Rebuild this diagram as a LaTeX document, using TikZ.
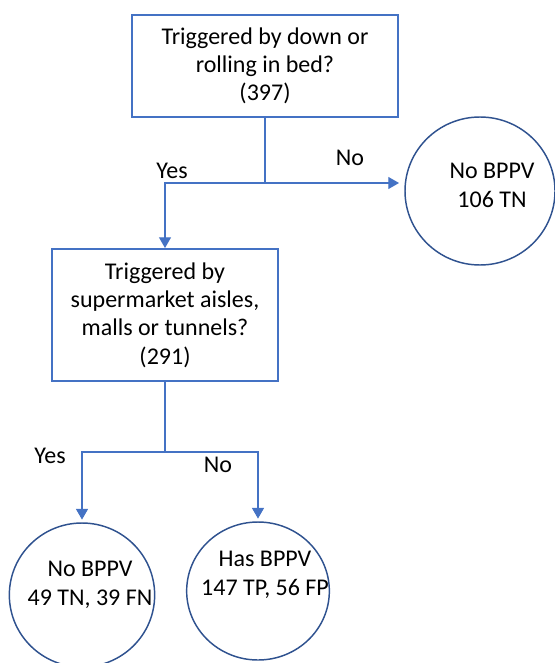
\documentclass[tikz,border=0pt]{standalone}
\usepackage{fontspec}
\setmainfont{Carlito}
\usetikzlibrary{arrows.meta,shapes.geometric}
\definecolor{boxblue}{HTML}{4472C4}
\definecolor{ringblue}{HTML}{2F528F}
\tikzset{
  qbox/.style={draw=boxblue, line width=1.5pt, rectangle, inner sep=0pt, align=center,
    font=\fontsize{18}{21.2}\selectfont},
  ring/.style={draw=ringblue, line width=1.1pt, ellipse, inner sep=0pt},
  ringtext/.style={align=center, font=\fontsize{18}{21.75}\selectfont},
  lbl/.style={font=\fontsize{18}{20}\selectfont},
  conn/.style={draw=boxblue, line width=0.8pt},
  arr/.style={conn, -{Triangle[length=8pt,width=9pt]}}
}
\begin{document}
\begin{tikzpicture}[x=0.75pt,y=-0.75pt]
\useasboundingbox (0,0) rectangle (554,663);
% question boxes
\node[qbox, minimum width=199.5pt, minimum height=76.5pt] (q1) at (265,66)
  {Triggered by down or\\rolling in bed?\\(397)};
\node[qbox, minimum width=169.5pt, minimum height=99pt] (q2) at (165,315)
  {Triggered by\\supermarket aisles,\\malls or tunnels?\\(291)};
% outcome ellipses
\node[ring, minimum width=112.5pt, minimum height=111pt] (c1) at (480,191) {};
\node[ringtext] (c1t) at (492,185) {No BPPV\\106 TN};
\node[ring, minimum width=109pt, minimum height=108pt] (c2) at (82,595) {};
\node[ringtext] (c2t) at (90,585) {No BPPV\\49 TN, 39 FN};
\node[ring, minimum width=107pt, minimum height=103.5pt] (c3) at (258,591) {};
\node[ringtext] (c3t) at (265,575) {Has BPPV\\147 TP, 56 FP};
% junctions
\coordinate (j1) at (265,183);
\coordinate (n1) at (399,183);
\coordinate (j2) at (165,452);
% connectors
\draw[conn] (q1.south) -- (j1);
\draw[arr] (j1) -- (n1);
\draw[arr] (j1) -| (q2.north);
\draw[conn] (q2.south) -- (j2);
\draw[arr, shorten >=2pt] (j2) -| (c2.north);
\draw[arr, shorten >=2pt] (j2) -| (c3.north);
% labels
\node[lbl] (y1) at (172,171) {Yes};
\node[lbl] (n1l) at (350,158) {No};
\node[lbl] (y2) at (50,456) {Yes};
\node[lbl] (n2l) at (218,465) {No};
\end{tikzpicture}
\end{document}
